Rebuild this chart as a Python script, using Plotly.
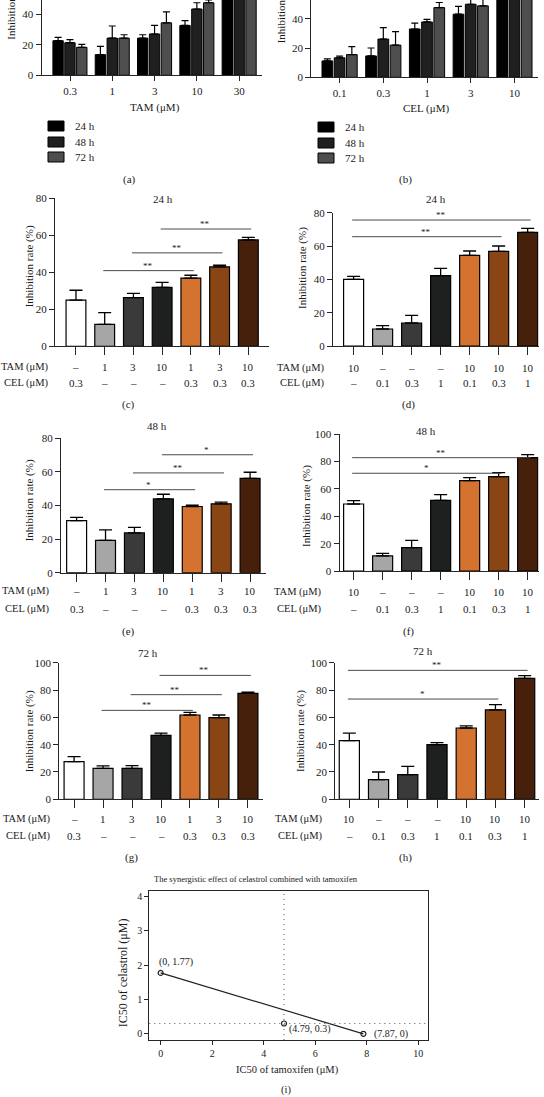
import plotly.graph_objects as go

W, H = 544, 1097
FONT = "Liberation Serif"

# ---------------- data ----------------
# (a) TAM dose response, (b) CEL dose response
a_doses = ["0.3", "1", "3", "10", "30"]
a_24h = [22.6, 13.5, 24.3, 32.6, 62.0]
a_24h_sd = [2.2, 5.4, 2.2, 3.1, 3.0]
a_48h = [21.3, 24.3, 27.0, 43.3, 70.0]
a_48h_sd = [2.0, 7.9, 5.6, 4.1, 3.0]
a_72h = [18.3, 24.3, 34.3, 47.4, 78.0]
a_72h_sd = [1.9, 2.2, 7.2, 1.8, 3.0]

b_doses = ["0.1", "0.3", "1", "3", "10"]
b_24h = [11.2, 14.6, 33.0, 43.1, 65.0]
b_24h_sd = [1.4, 5.4, 4.0, 5.4, 3.0]
b_48h = [13.3, 26.1, 37.8, 49.9, 72.0]
b_48h_sd = [1.1, 7.8, 1.8, 4.0, 3.0]
b_72h = [15.5, 22.0, 47.6, 48.8, 80.0]
b_72h_sd = [5.4, 9.2, 3.5, 5.0, 3.0]

time_labels = ["24 h", "48 h", "72 h"]

# combination groups
ce_tam = ["–", "1", "3", "10", "1", "3", "10"]
ce_cel = ["0.3", "–", "–", "–", "0.3", "0.3", "0.3"]
ct_tam = ["10", "–", "–", "–", "10", "10", "10"]
ct_cel = ["–", "0.1", "0.3", "1", "0.1", "0.3", "1"]

c_vals = [25.0, 11.9, 26.3, 31.9, 36.9, 42.9, 57.5]
c_sd = [5.3, 6.3, 2.3, 2.7, 1.5, 0.9, 1.4]
c_sig = [(1, 4, 40.9, "**"), (2, 5, 50.5, "**"), (3, 6, 63.4, "**")]

d_vals = [40.0, 10.2, 13.8, 42.2, 54.4, 56.8, 68.2]
d_sd = [1.8, 2.0, 4.6, 4.4, 2.6, 3.2, 2.4]
d_sig = [(0, 6, 75.6, "**"), (0, 5, 65.6, "**")]

e_vals = [31.0, 19.2, 23.7, 43.9, 39.4, 41.0, 56.1]
e_sd = [1.9, 6.3, 3.3, 2.8, 0.8, 1.0, 3.7]
e_sig = [(1, 4, 49.4, "*"), (2, 5, 59.4, "**"), (3, 6, 70.2, "*")]

f_vals = [49.0, 11.0, 17.1, 51.7, 66.1, 69.0, 82.9]
f_sd = [2.5, 1.9, 5.3, 4.2, 2.2, 3.0, 2.2]
f_sig = [(0, 6, 82.9, "**"), (0, 5, 71.5, "*")]

g_vals = [27.6, 22.7, 22.7, 46.8, 61.7, 59.8, 77.6]
g_sd = [3.6, 1.7, 1.9, 1.7, 2.0, 1.9, 0.9]
g_sig = [(1, 4, 65.1, "**"), (2, 5, 76.6, "**"), (3, 6, 90.7, "**")]

h_vals = [42.9, 14.4, 18.0, 40.0, 52.2, 65.4, 88.5]
h_sd = [5.6, 5.6, 6.1, 1.5, 1.5, 3.9, 2.0]
h_sig = [(0, 6, 94.4, "**"), (0, 5, 73.4, "*")]

# (i) isobologram
i_tam = [0, 4.79, 7.87]
i_cel = [1.77, 0.3, 0]

# ---------------- styles ----------------
time_colors = ["#000000", "#202020", "#4e4e4e"]
combo_colors = ["#ffffff", "#a6a6a6", "#3a3a3a", "#1e201f", "#d4722f", "#8a4515", "#46200b"]
AX = "#262626"


def xp(px):
    return px / W


def yp(py):
    return 1 - py / H


fig = go.Figure()
layout = dict(
    width=W, height=H, margin=dict(l=0, r=0, t=0, b=0, pad=0),
    paper_bgcolor="white", plot_bgcolor="white",
    font=dict(family=FONT, size=11, color="#1a1a1a"),
    showlegend=False, barmode="overlay",
)
annotations = []
shapes = []


def axis_common():
    return dict(showline=True, linecolor=AX, linewidth=1.3, showgrid=False,
                zeroline=False, ticks="outside", tickcolor=AX, tickwidth=1.2,
                automargin=False, fixedrange=True)


def add_axes(n, xdom, ydom, xr, yr, xtype="linear", xticklen=5, showxlabels=True, dtick=20):
    xk = "xaxis" if n == 1 else f"xaxis{n}"
    yk = "yaxis" if n == 1 else f"yaxis{n}"
    ya = "y" if n == 1 else f"y{n}"
    xa = "x" if n == 1 else f"x{n}"
    xd = axis_common()
    xd.update(domain=[xp(xdom[0]), xp(xdom[1])], range=xr, anchor=ya, type=xtype,
              ticklen=xticklen, showticklabels=showxlabels, tickfont=dict(size=11))
    yd = axis_common()
    yd.update(domain=[yp(ydom[1]), yp(ydom[0])], range=yr, anchor=xa, ticklen=5,
              dtick=dtick, tick0=0, tickfont=dict(size=11))
    layout[xk] = xd
    layout[yk] = yd
    return xa, ya


def text(x, y, s, size=11, xanchor="center", yanchor="middle", xref="paper", yref="paper", angle=0, **kw):
    annotations.append(dict(x=x, y=y, text=s, showarrow=False, xref=xref, yref=yref,
                            xanchor=xanchor, yanchor=yanchor, textangle=angle,
                            font=dict(family=FONT, size=size, color="#1a1a1a"), **kw))


# ---------------- panels (a), (b) ----------------
def dose_panel(n, doses, series, sds, geom):
    xa, ya = add_axes(n, geom["xdom"], geom["ydom"], geom["xr"], geom["yr"], xtype="category")
    offs = [-0.405, -0.125, 0.155]
    for k, (vals, sd) in enumerate(zip(series, sds)):
        fig.add_trace(go.Bar(
            x=doses, y=vals, xaxis=xa, yaxis=ya, name=time_labels[k],
            width=0.245, offset=offs[k],
            marker=dict(color=time_colors[k], line=dict(color="black", width=1)),
            error_y=dict(type="data", symmetric=False, array=sd, arrayminus=[0] * len(sd),
                         color="black", thickness=1.2, width=3.5),
        ))
    # legend swatches
    for k, lab in enumerate(time_labels):
        y0 = geom["leg_y"][k]
        shapes.append(dict(type="rect", xref="paper", yref="paper",
                           x0=xp(geom["leg_x"]), x1=xp(geom["leg_x"] + 16),
                           y0=yp(y0 + 10), y1=yp(y0),
                           fillcolor=time_colors[k], line=dict(color="black", width=1)))
        text(xp(geom["leg_x"] + 25), yp(y0 + 5), lab, xanchor="left")
    text(xp(geom["xtitle"][0]), yp(geom["xtitle"][1]), geom["xlabel"])
    text(xp(geom["ytitle"][0]), yp(geom["ytitle"][1]), "Inhibition rate (%)",
         angle=-90, yanchor="bottom")
    text(xp(geom["panel"][0]), yp(geom["panel"][1]), geom["plabel"])


dose_panel(1, a_doses, [a_24h, a_48h, a_72h], [a_24h_sd, a_48h_sd, a_72h_sd],
           dict(xdom=(41.7, 261.7), ydom=(0, 75.3), xr=[-0.67, 4.53], yr=[0, 49.2],
                leg_x=48, leg_y=[121, 137, 152], xtitle=(155, 107), ytitle=(11.7, 42),
                xlabel="TAM (μM)", panel=(129, 179), plabel="(a)"))
dose_panel(2, b_doses, [b_24h, b_48h, b_72h], [b_24h_sd, b_48h_sd, b_72h_sd],
           dict(xdom=(311.3, 537.7), ydom=(0, 77.3), xr=[-0.65, 4.53], yr=[0, 52.8],
                leg_x=318, leg_y=[122, 138, 153], xtitle=(426, 109), ytitle=(281.3, 45),
                xlabel="CEL (μM)", panel=(405, 180), plabel="(b)"))


# ---------------- panels (c)-(h) ----------------
def combo_panel(n, vals, sd, tam, cel, sig, geom):
    xa, ya = add_axes(n, geom["xdom"], geom["ydom"], geom["xr"], geom["yr"],
                      xticklen=8, showxlabels=False)
    idx = list(range(len(vals)))
    layout["xaxis%d" % n].update(tickvals=idx)
    fig.add_trace(go.Bar(
        x=idx, y=vals, xaxis=xa, yaxis=ya, width=0.69,
        marker=dict(color=combo_colors, line=dict(color="black", width=1.2)),
        error_y=dict(type="data", symmetric=False, array=sd, arrayminus=[0] * len(sd),
                     color="black", thickness=1.3, width=6.5),
    ))
    for (i0, i1, lev, star) in sig:
        shapes.append(dict(type="line", xref=xa, yref=ya, x0=i0 - 0.05, x1=i1 + 0.1,
                           y0=lev, y1=lev, line=dict(color="#4a4a4a", width=1)))
        annotations.append(dict(x=(i0 + i1) / 2, y=lev, xref=xa, yref=ya, text=star,
                                showarrow=False, yanchor="bottom", yshift=-2,
                                font=dict(family=FONT, size=9, color="#1a1a1a")))
    ty, cy = geom["rows"]
    for k in idx:
        text(k, yp(ty), tam[k], xref=xa)
        text(k, yp(cy), cel[k], xref=xa)
    text(xp(geom["rowx"]), yp(ty), "TAM (μM)", size=10.5, xanchor="right")
    text(xp(geom["rowx"]), yp(cy), "CEL (μM)", size=10.5, xanchor="right")
    text(xp(geom["ytitle"][0]), yp(geom["ytitle"][1]), "Inhibition rate (%)", angle=-90)
    text(xp(geom["title"][0]), yp(geom["title"][1]), geom["tlabel"])
    text(xp(geom["panel"][0]), yp(geom["panel"][1]), geom["plabel"])


combo_panel(3, c_vals, c_sd, ce_tam, ce_cel, c_sig,
            dict(xdom=(55, 269), ydom=(198.3, 346.3), xr=[-0.73, 6.72], yr=[0, 80],
                 rows=(366.7, 383.3), rowx=51, ytitle=(29.3, 266), title=(162.7, 199),
                 tlabel="24 h", panel=(128, 404), plabel="(c)"))
combo_panel(4, d_vals, d_sd, ct_tam, ct_cel, d_sig,
            dict(xdom=(333, 538.7), ydom=(212.7, 346), xr=[-0.71, 6.38], yr=[0, 80],
                 rows=(367.7, 383.3), rowx=327, ytitle=(302, 268), title=(436, 199),
                 tlabel="24 h", panel=(408, 404), plabel="(d)"))
combo_panel(5, e_vals, e_sd, ce_tam, ce_cel, e_sig,
            dict(xdom=(61, 265.7), ydom=(438.3, 572.7), xr=[-0.54, 6.54], yr=[0, 80],
                 rows=(591, 609.3), rowx=51.5, ytitle=(29.3, 500), title=(156.7, 426),
                 tlabel="48 h", panel=(128.3, 631.7), plabel="(e)"))
combo_panel(6, f_vals, f_sd, ct_tam, ct_cel, f_sig,
            dict(xdom=(339.7, 538.7), ydom=(434.3, 571), xr=[-0.48, 6.38], yr=[0, 100],
                 rows=(591.7, 609.3), rowx=324, ytitle=(307, 506), title=(426, 430.7),
                 tlabel="48 h", panel=(408, 631.7), plabel="(f)"))
combo_panel(7, g_vals, g_sd, ce_tam, ce_cel, g_sig,
            dict(xdom=(59.3, 263), ydom=(662.7, 799.3), xr=[-0.51, 6.52], yr=[0, 100],
                 rows=(819.3, 835.5), rowx=53, ytitle=(29.3, 731), title=(147.7, 653.3),
                 tlabel="72 h", panel=(131.7, 857.3), plabel="(g)"))
combo_panel(8, h_vals, h_sd, ct_tam, ct_cel, h_sig,
            dict(xdom=(335.3, 538.7), ydom=(662.7, 799.3), xr=[-0.48, 6.48], yr=[0, 100],
                 rows=(819.3, 835.5), rowx=325.3, ytitle=(300, 731), title=(423, 651),
                 tlabel="72 h", panel=(405.7, 857.7), plabel="(h)"))

# ---------------- panel (i) ----------------
xa, ya = "x9", "y9"
xd = axis_common()
xd.update(domain=[xp(149.3), xp(428.3)], range=[-0.44, 10.39], anchor=ya, dtick=2, tick0=0,
          mirror=True, ticklen=4, linewidth=1, tickfont=dict(size=10))
yd = axis_common()
yd.update(domain=[yp(1040), yp(890.7)], range=[-0.18, 4.16], anchor=xa, dtick=1, tick0=0,
          mirror=True, ticklen=4, linewidth=1, tickfont=dict(size=10))
layout["xaxis9"] = xd
layout["yaxis9"] = yd

# reference dotted lines through the combination point
shapes.append(dict(type="line", xref=xa, yref="y9 domain", x0=i_tam[1], x1=i_tam[1], y0=0, y1=1,
                   line=dict(color="#555555", width=1, dash="1px,4px")))
shapes.append(dict(type="line", xref="x9 domain", yref=ya, x0=0, x1=1, y0=i_cel[1], y1=i_cel[1],
                   line=dict(color="#555555", width=1, dash="1px,4px")))
# isobole connecting single-drug IC50s
fig.add_trace(go.Scatter(x=[i_tam[0], i_tam[2]], y=[i_cel[0], i_cel[2]], xaxis=xa, yaxis=ya,
                         mode="lines", line=dict(color="#222222", width=1.2)))
fig.add_trace(go.Scatter(x=i_tam, y=i_cel, xaxis=xa, yaxis=ya, mode="markers",
                         marker=dict(symbol="circle-open", size=5, color="#222222",
                                     line=dict(width=1.2))))
lab_cfg = [(dict(xanchor="left", yanchor="bottom", xshift=-4, yshift=3)),
           (dict(xanchor="left", yanchor="middle", xshift=3, yshift=-6)),
           (dict(xanchor="left", yanchor="middle", xshift=9, yshift=0))]
for k in range(3):
    annotations.append(dict(x=i_tam[k], y=i_cel[k], xref=xa, yref=ya, showarrow=False,
                            text=f"({i_tam[k]:g}, {i_cel[k]:g})",
                            font=dict(family=FONT, size=10, color="#1a1a1a"), **lab_cfg[k]))
text(xp(255.5), yp(879), "The synergistic effect of celastrol combined with tamoxifen", size=8.5)
text(xp(287.3), yp(1070), "IC50 of tamoxifen (μM)", size=10.5)
text(xp(123.3), yp(973), "IC50 of celastrol (μM)", size=12, angle=-90)
text(xp(285.7), yp(1090), "(i)", size=10.5)

layout["annotations"] = annotations
layout["shapes"] = shapes
fig.update_layout(**layout)

fig.write_html("out.html", config={"displayModeBar": False, "responsive": False},
               post_script="document.body.style.margin='0px';")
